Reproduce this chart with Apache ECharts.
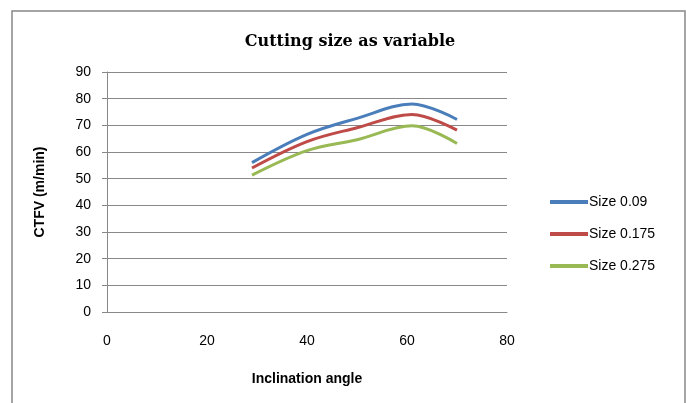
<!DOCTYPE html>
<html><head><meta charset="utf-8">
<script src="https://cdn.jsdelivr.net/npm/echarts@6/dist/echarts.min.js"></script>
<style>html,body{margin:0;padding:0;background:#fff}#c{width:686px;height:403px}</style>
</head><body><div id="c"></div>
<script>
const angles = [29, 40, 50, 61, 70];
const size009 = [56, 66.6, 72.6, 78, 72.2];
const size0175 = [54, 63.9, 69.1, 74.1, 68.2];
const size0275 = [51.3, 60.5, 64.6, 69.8, 63.2];
const seriesNames = ['Size 0.09', 'Size 0.175', 'Size 0.275'];
const colors = ['#4A7EBB', '#BE4B48', '#98B954'];
const allData = [size009, size0175, size0275];
const chart = echarts.init(document.getElementById('c'));
const font = 'Liberation Sans';
chart.setOption({
  animation: false,
  title: { text: 'Cutting size as variable', left: 345, top: 29, textAlign: 'center',
    textStyle: { fontFamily: 'DejaVu Serif', fontWeight: 'bold', fontSize: 16, color: '#000' } },
  graphic: [{ type: 'rect', shape: { x: 12, y: 11, width: 673, height: 400 },
    style: { fill: 'none', stroke: '#888', lineWidth: 1.5 } }],
  grid: { left: 107, top: 72, width: 400, height: 240 },
  legend: { orient: 'vertical', left: 545, top: 190, itemGap: 18, itemWidth: 38, itemHeight: 4,
    icon: 'rect', data: seriesNames,
    textStyle: { fontFamily: font, fontSize: 14, color: '#000', padding: [0, 0, 0, -4] } },
  xAxis: { type: 'value', min: 0, max: 80, interval: 20,
    name: 'Inclination angle', nameLocation: 'middle', nameGap: 60,
    nameTextStyle: { fontFamily: font, fontWeight: 'bold', fontSize: 14, color: '#000' },
    axisLine: { show: true, lineStyle: { color: '#888' } }, axisTick: { show: false },
    splitLine: { show: false },
    axisLabel: { fontFamily: font, fontSize: 14, color: '#000', margin: 22 } },
  yAxis: { type: 'value', min: 0, max: 90, interval: 10,
    name: 'CTFV (m/min)', nameLocation: 'middle', nameGap: 60, nameRotate: 90,
    nameTextStyle: { fontFamily: font, fontWeight: 'bold', fontSize: 14, color: '#000' },
    axisLine: { show: true, lineStyle: { color: '#888' } },
    axisTick: { show: true, inside: false, length: 5, lineStyle: { color: '#888' } },
    splitLine: { show: true, lineStyle: { color: '#888' } },
    axisLabel: { fontFamily: font, fontSize: 14, color: '#000', margin: 16 } },
  series: allData.map((d, i) => ({
    name: seriesNames[i], type: 'line', smooth: 0.35, showSymbol: false,
    data: angles.map((a, j) => [a, d[j]]),
    lineStyle: { color: colors[i], width: 3 }, itemStyle: { color: colors[i] }
  }))
});
</script></body></html>
